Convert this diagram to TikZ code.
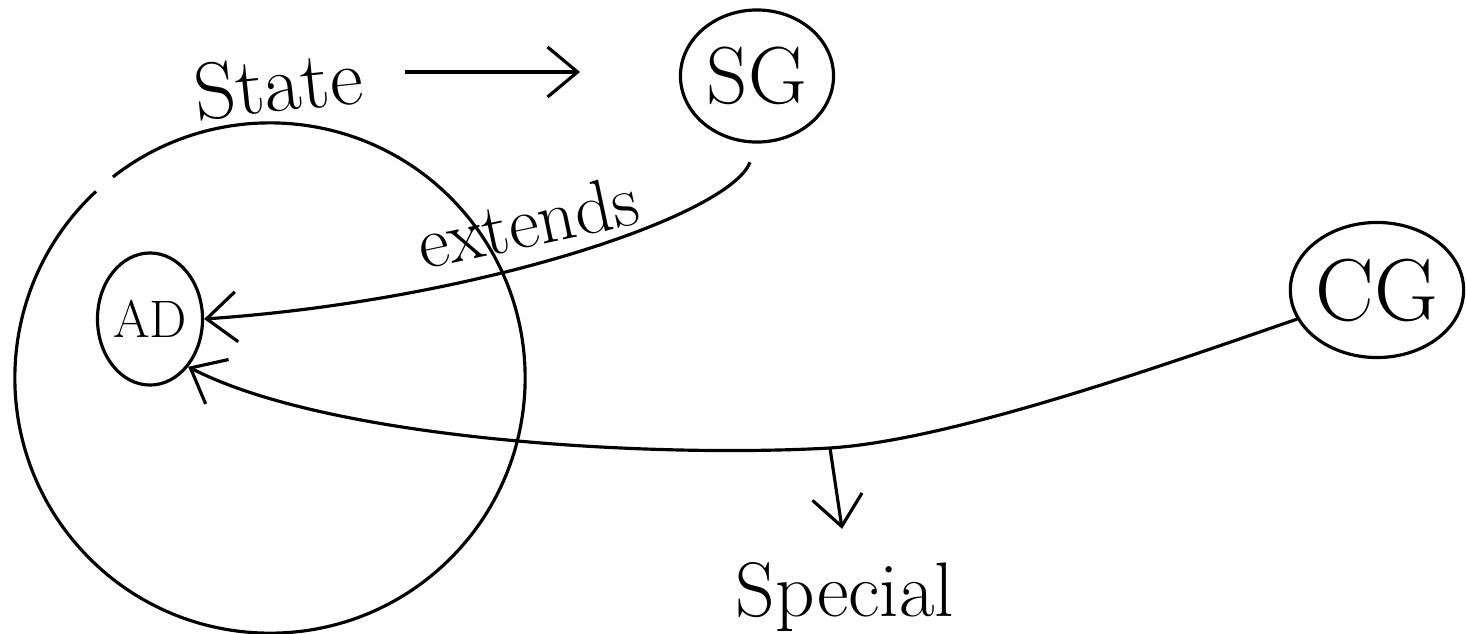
\documentclass[tikz,border=0pt]{standalone}
\usepackage{tikz}
\usetikzlibrary{arrows.meta, shapes.geometric}

\begin{document}
\begin{tikzpicture}[x=0.01cm, y=-0.01cm, line width=0.9pt,
    >={Straight Barb[length=3mm, width=5mm]},
    nodo/.style={draw, ellipse, inner sep=0pt}]
    \useasboundingbox (0,0) rectangle (1466,633);

    % Nodi
    \node[nodo, minimum width=1.05cm, minimum height=1.32cm, font=\fontsize{15}{18}\selectfont] (AD) at (150,319) {AD};
    \node[nodo, minimum width=1.53cm, minimum height=1.32cm, font=\fontsize{23}{27}\selectfont] (SG) at (757,76) {SG};
    \node[nodo, minimum width=1.69cm, minimum height=1.35cm, font=\fontsize{25}{29}\selectfont] (CG) at (1377,290) {CG};

    % Cerchio grande
    \coordinate (centro) at (270,378);
    \draw ([shift={(133:2.55cm)}]centro) arc[start angle=133, end angle=488, radius=2.55cm];

    % Etichetta State
    \node[font=\fontsize{23}{27}\selectfont, rotate=6] (state) at (278,84) {State};
    \coordinate (punta) at (580,72);
    \draw[->, shorten <=3mm] (state.east |- punta) -- (punta);

    % Extends
    \draw[->, shorten <=2mm] (SG.south) .. controls (730,215) and (480,300) .. (AD.east)
        node[pos=0.56, anchor=south, inner sep=4pt, rotate=12, font=\fontsize{21}{25}\selectfont] {extends};

    % CG verso AD
    \coordinate (ramo) at (830,448);
    \draw[->] (CG.200) .. controls (1150,370) and (950,440) .. (ramo)
        .. controls (650,458) and (330,440) .. (AD.south east);

    % Special
    \node[anchor=base, font=\fontsize{22}{26}\selectfont] (special) at (845,616) {Special};
    \draw[->, shorten >=2mm] (ramo) -- (special.north);
\end{tikzpicture}
\end{document}
